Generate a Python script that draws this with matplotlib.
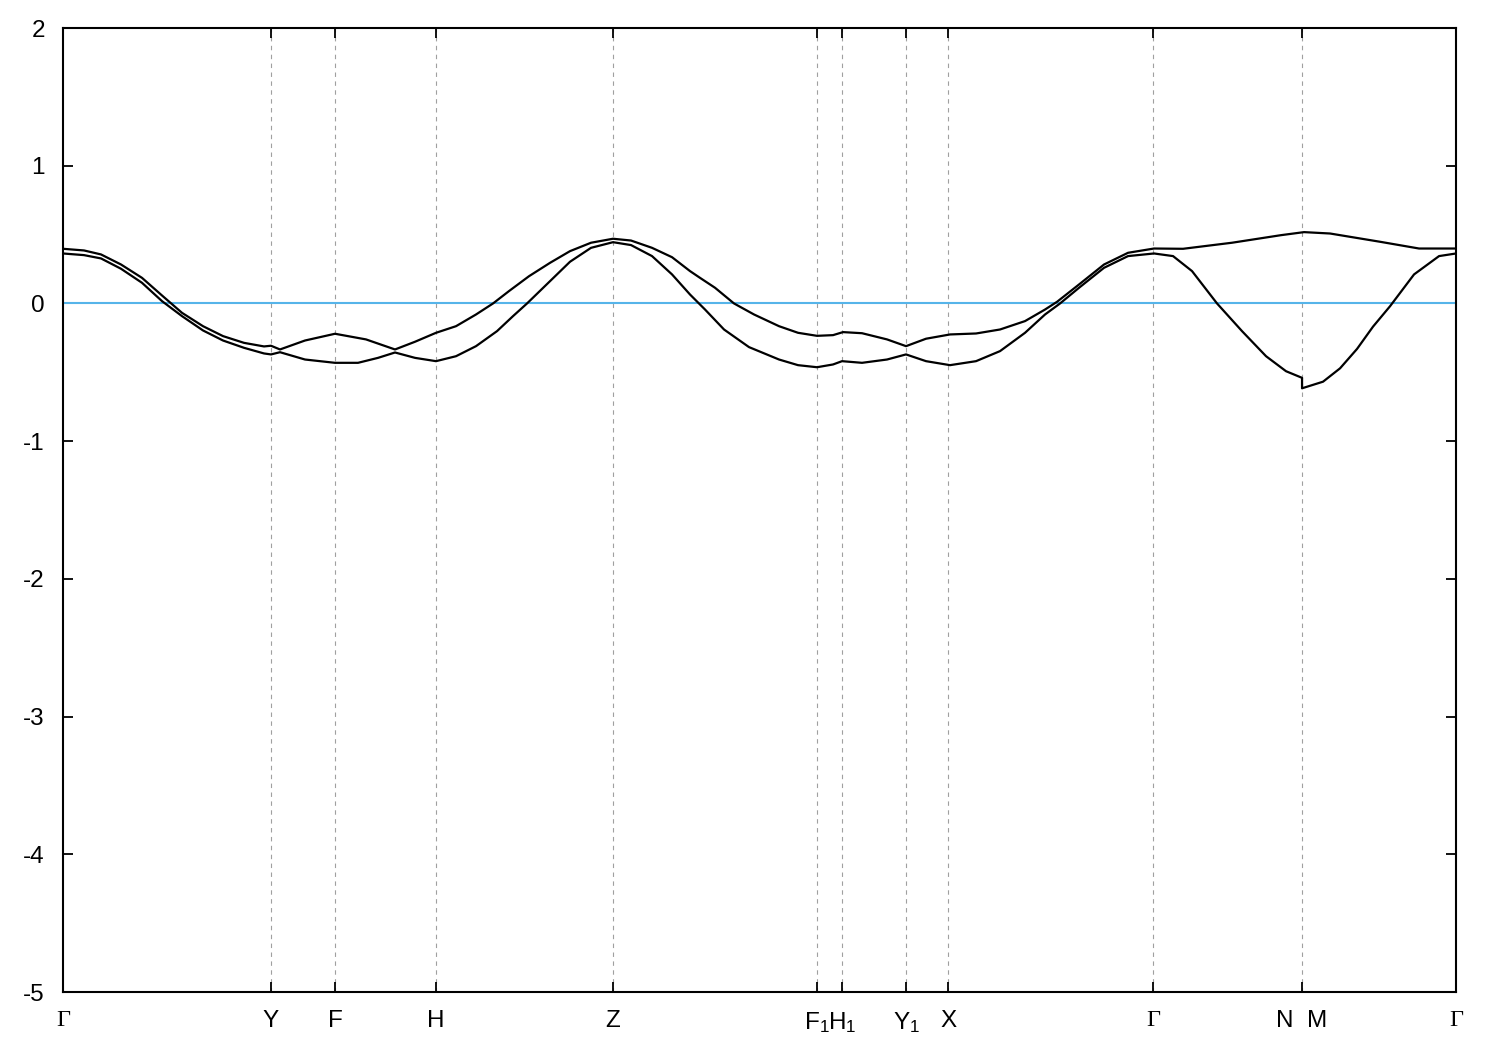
import matplotlib
matplotlib.use("Agg")
import matplotlib.pyplot as plt
import numpy as np

plt.rcParams['font.family'] = ['Liberation Sans', 'DejaVu Sans']
plt.rcParams['mathtext.fontset'] = 'custom'
plt.rcParams['mathtext.rm'] = 'Liberation Sans'
plt.rcParams['mathtext.it'] = 'Liberation Sans'

# high-symmetry points (path distance, arbitrary units)
kpt_pos = [0.0, 0.208, 0.272, 0.373, 0.550, 0.754, 0.779, 0.843, 0.885, 1.090, 1.239, 1.393]
kpt_labels = ['Γ', 'Y', 'F', 'H', 'Z', r'F$_1$', r'H$_1$', r'Y$_1$', 'X', 'Γ', 'N  M', 'Γ']

# upper band
k_up = [0.000, 0.021, 0.038, 0.058, 0.079, 0.099, 0.119, 0.140, 0.160, 0.181, 0.201,
        0.208, 0.217, 0.242, 0.272, 0.303, 0.332, 0.352, 0.373, 0.393, 0.413, 0.430,
        0.446, 0.466, 0.487, 0.507, 0.528, 0.550, 0.568, 0.589, 0.609, 0.627, 0.637,
        0.652, 0.671, 0.691, 0.716, 0.735, 0.754, 0.770, 0.780, 0.799, 0.824, 0.843,
        0.863, 0.887, 0.913, 0.937, 0.962, 0.982, 0.994, 1.016, 1.041, 1.065, 1.091,
        1.120, 1.169, 1.218, 1.241, 1.267, 1.317, 1.356, 1.393]
e_up = [0.397, 0.385, 0.356, 0.283, 0.186, 0.058, -0.068, -0.165, -0.237, -0.286, -0.312,
        -0.307, -0.334, -0.269, -0.220, -0.261, -0.334, -0.278, -0.213, -0.165, -0.080, 0.000,
        0.090, 0.198, 0.295, 0.380, 0.441, 0.470, 0.457, 0.404, 0.336, 0.235, 0.186,
        0.114, 0.000, -0.080, -0.165, -0.213, -0.235, -0.230, -0.208, -0.216, -0.261, -0.310,
        -0.256, -0.225, -0.218, -0.189, -0.128, -0.044, 0.012, 0.138, 0.283, 0.368, 0.399,
        0.397, 0.441, 0.496, 0.518, 0.508, 0.448, 0.399, 0.399]

# lower band
k_lo = [0.000, 0.021, 0.038, 0.058, 0.079, 0.099, 0.119, 0.140, 0.160, 0.181, 0.201,
        0.208, 0.217, 0.242, 0.272, 0.295, 0.315, 0.332, 0.352, 0.373, 0.393, 0.413,
        0.434, 0.450, 0.464, 0.487, 0.507, 0.528, 0.550, 0.568, 0.589, 0.609, 0.627,
        0.642, 0.661, 0.686, 0.716, 0.735, 0.754, 0.770, 0.779, 0.799, 0.824, 0.843,
        0.863, 0.887, 0.913, 0.937, 0.962, 0.982, 0.997, 1.016, 1.041, 1.065, 1.091,
        1.110, 1.129, 1.154, 1.179, 1.203, 1.223, 1.239, 1.239, 1.260, 1.277, 1.294,
        1.310, 1.327, 1.351, 1.376, 1.393]
e_lo = [0.363, 0.351, 0.327, 0.252, 0.150, 0.017, -0.092, -0.196, -0.269, -0.322, -0.363,
        -0.370, -0.354, -0.407, -0.431, -0.431, -0.395, -0.356, -0.395, -0.419, -0.383, -0.310,
        -0.201, -0.092, 0.000, 0.162, 0.303, 0.404, 0.445, 0.424, 0.344, 0.211, 0.065,
        -0.044, -0.189, -0.317, -0.407, -0.448, -0.463, -0.443, -0.419, -0.431, -0.407, -0.370,
        -0.419, -0.448, -0.419, -0.346, -0.213, -0.080, 0.000, 0.114, 0.259, 0.344, 0.363,
        0.344, 0.235, 0.000, -0.201, -0.383, -0.492, -0.540, -0.616, -0.568, -0.471, -0.330,
        -0.168, -0.020, 0.211, 0.344, 0.363]

fermi = 0.0
y_ticks = [-5, -4, -3, -2, -1, 0, 1, 2]

fig = plt.figure(figsize=(15, 10.5), dpi=100)
ax = fig.add_axes([0.042, 0.0552, 0.9287, 0.9181])

for x in kpt_pos[1:-1]:
    ax.axvline(x, color='#a0a0a0', lw=0.8, ls=(0, (4, 4)), zorder=1)

ax.axhline(fermi, color='#56b4e9', lw=1.5, zorder=2)
ax.plot(k_up, e_up, color='black', lw=1.6, zorder=3, solid_joinstyle='round')
ax.plot(k_lo, e_lo, color='black', lw=1.6, zorder=3, solid_joinstyle='round')

ax.set_xlim(kpt_pos[0], kpt_pos[-1])
ax.set_ylim(-5, 2)
ax.set_yticks(y_ticks)
ax.set_yticklabels([str(v) for v in y_ticks])
ax.set_xticks(kpt_pos)
ax.set_xticklabels(kpt_labels)
for lbl in ax.get_xticklabels():
    if lbl.get_text() == 'Γ':
        lbl.set_fontfamily(['Liberation Serif', 'DejaVu Serif'])

ax.tick_params(axis='both', direction='in', length=7.5, width=1.3, labelsize=17.5,
               top=True, right=True)
ax.tick_params(axis='y', pad=13)
ax.tick_params(axis='x', pad=13)
for s in ax.spines.values():
    s.set_linewidth(1.5)

fig.savefig('out.png', dpi=100)
